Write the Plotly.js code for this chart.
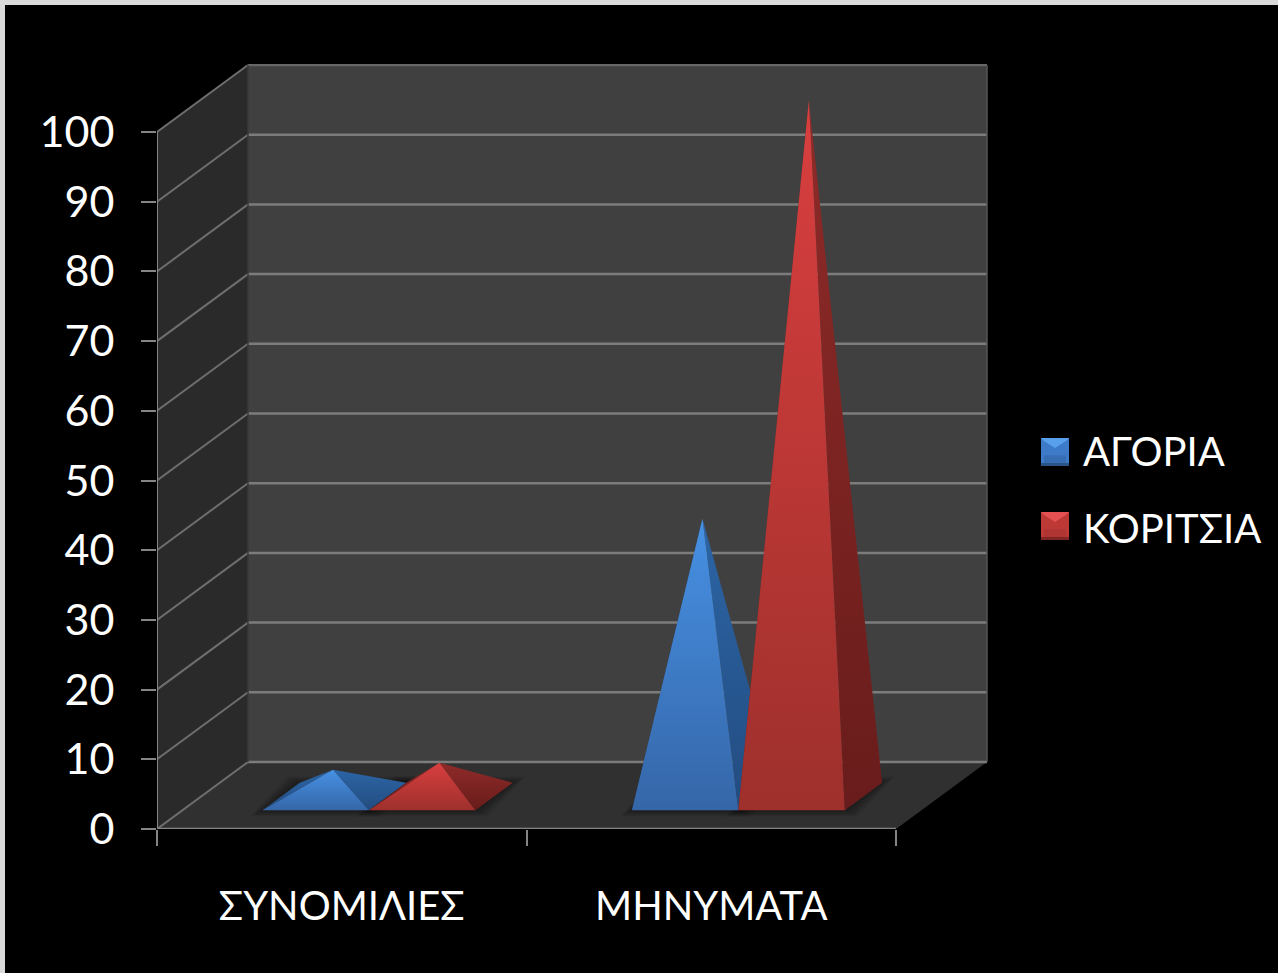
<!DOCTYPE html>
<html>
<head>
<meta charset="utf-8">
<script src="https://cdn.plot.ly/plotly-3.0.1.min.js"></script>
<style>
  html, body { margin: 0; padding: 0; width: 1278px; height: 973px; overflow: hidden; background: #dadada; }
  #chart { position: absolute; left: 5px; top: 5px; width: 1273px; height: 968px; }
</style>
</head>
<body>
<div id="chart"></div>
<script>
// Chart content
const categories = ['ΣΥΝΟΜΙΛΙΕΣ', 'ΜΗΝΥΜΑΤΑ'];
const seriesNames = ['ΑΓΟΡΙΑ', 'ΚΟΡΙΤΣΙΑ'];
const boys = [4, 40];
const girls = [5, 100];
const yTicks = [0, 10, 20, 30, 40, 50, 60, 70, 80, 90, 100];

// Page layout, in window pixels
const WIN = { offX: 5, offY: 5, w: 1273, h: 968 };
const PLOT = { left: 157, right: 989, top: 64, bottom: 829 };
const CAT_PX = 369.5, UNIT_PX = 6.97;

// Oblique box projection: depth 0 is the front plane, depth 1 the back wall
const DX = 91 / CAT_PX, DY = 67 / UNIT_PX;
const project = (c, v, d) => [c + d * DX, v + d * DY];

const xRange = [0, (PLOT.right - PLOT.left) / CAT_PX];
const yRange = [0, (PLOT.bottom - PLOT.top) / UNIT_PX];

const traces = [];
function poly(points, style) {
  const pts = points.concat([points[0]]);
  traces.push(Object.assign({
    type: 'scatter', mode: 'lines', x: pts.map(p => p[0]), y: pts.map(p => p[1]),
    fill: 'toself', line: { width: 0 }, hoverinfo: 'skip', showlegend: false, cliponaxis: false
  }, style));
}
function seg(points, color, width) {
  traces.push({
    type: 'scatter', mode: 'lines', x: points.map(p => p[0]), y: points.map(p => p[1]),
    line: { color: color, width: width }, hoverinfo: 'skip', showlegend: false, cliponaxis: false
  });
}

// Box walls and floor
poly([project(0,0,0), project(0,0,1), project(0,100,1), project(0,100,0)], { fillcolor: '#2a2a2a' });
poly([project(0,0,1), project(2,0,1), project(2,100,1), project(0,100,1)], { fillcolor: '#404040' });
poly([project(0,0,0), project(2,0,0), project(2,0,1), project(0,0,1)], { fillcolor: '#303030' });

// Gridlines run along the left wall and across the back wall
yTicks.forEach(v => {
  const c = v === 100 ? '#666666' : '#7c7c7c';
  seg([project(0,v,0), project(0,v,1)], '#6e6e6e', 2);
  seg([project(0,v,1), project(2,v,1)], c, 2.5);
});
seg([project(2,0,1), project(2,100,1)], '#555555', 1.5);
seg([project(0,0,1), project(0,100,1)], '#3a3a3a', 1.5);

// Front axis lines
seg([project(0,0,0), project(0,100,0)], '#858585', 2);
seg([project(0,0,0), project(2,0,0)], '#858585', 2.5);

// Pyramids
const BAR_START = 0.2165, BAR_W = 0.288;
const DEPTH_FRONT = 0.28, DEPTH_BACK = 0.69, DEPTH_APEX = 0.47;

const palette = [
  { front: ['#3566a8', '#4791e4'], side: ['#234c80', '#2c65a6'] },
  { front: ['#9e302c', '#d93f3f'], side: ['#681c1b', '#8f2b29'] }
];

function footprint(c0, grow) {
  const c1 = c0 + BAR_W, g = grow / CAT_PX, h = grow / UNIT_PX * 0.5;
  const a = project(c0, 0, DEPTH_FRONT), b = project(c1, 0, DEPTH_FRONT);
  const e = project(c1, 0, DEPTH_BACK), f = project(c0, 0, DEPTH_BACK);
  return [[a[0]-g, a[1]-h], [b[0]+g, b[1]-h], [e[0]+g, e[1]+h], [f[0]-g, f[1]+h]];
}

const allSeries = [boys, girls];

// Soft contact shadows on the floor, built up from stacked translucent layers
allSeries.forEach((vals, s) => {
  vals.forEach((_, i) => {
    const c0 = i + BAR_START + s * BAR_W;
    [12, 9, 6, 3].forEach(g => poly(footprint(c0, g), { fillcolor: 'rgba(0,0,0,0.10)' }));
  });
});

allSeries.forEach((vals, s) => {
  vals.forEach((v, i) => {
    const c0 = i + BAR_START + s * BAR_W, c1 = c0 + BAR_W;
    const apex = project(c0 + BAR_W / 2, v, DEPTH_APEX);
    const fl = project(c0, 0, DEPTH_FRONT), fr = project(c1, 0, DEPTH_FRONT);
    const bl = project(c0, 0, DEPTH_BACK), br = project(c1, 0, DEPTH_BACK);
    const grad = pair => ({ type: 'vertical', colorscale: [[0, pair[0]], [1, pair[1]]] });
    poly([fl, bl, apex], { fillgradient: grad(palette[s].side) });
    poly([fr, br, apex], { fillgradient: grad(palette[s].side) });
    poly([fl, fr, apex], { fillgradient: grad(palette[s].front) });
  });
});

// Legend entries; their bevelled swatches are drawn as shapes beside the text
seriesNames.forEach((name, s) => {
  traces.push({
    type: 'scatter', mode: 'markers', x: [null], y: [null], xaxis: 'x2', name: name,
    legendgroup: 'g' + s, marker: { size: 1, opacity: 0, color: palette[s].front[1] }, hoverinfo: 'skip'
  });
});

// Window pixels to paper fractions
const paperX = px => (px - PLOT.left) / (PLOT.right - PLOT.left);
const paperY = py => (PLOT.bottom - py) / (PLOT.bottom - PLOT.top);

function swatch(x, y, size, colors) {
  const path = pts => pts.map((p, i) => (i ? 'L' : 'M') + paperX(p[0]) + ',' + paperY(p[1])).join(' ') + ' Z';
  const x1 = x + size, y1 = y + size, cx = x + size / 2, inset = 3;
  const part = (pts, color) => ({ type: 'path', xref: 'paper', yref: 'paper', path: path(pts), fillcolor: color, line: { width: 0 } });
  return [
    part([[x,y],[x1,y],[x1,y1],[x,y1]], colors.mid),
    part([[x+inset,y+size*0.62],[x1-inset,y+size*0.62],[x1-inset,y1-inset],[x+inset,y1-inset]], colors.low),
    part([[x,y1-inset],[x1,y1-inset],[x1,y1],[x,y1]], colors.edge),
    part([[x,y],[x1,y],[x1-inset,y+inset],[cx,y+size*0.36],[x+inset,y+inset]], colors.top)
  ];
}
const shapes = [].concat(
  swatch(1041, 438, 28, { mid: '#3d7ac7', low: '#376db2', edge: '#2a5488', top: '#58a0ec' }),
  swatch(1041, 512, 28, { mid: '#bd3936', low: '#ae3532', edge: '#7f2523', top: '#e45150' })
);

const FONT = 'Lato, "Open Sans", "Noto Sans", sans-serif';
const layout = {
  width: WIN.w, height: WIN.h,
  margin: { l: PLOT.left - WIN.offX, r: WIN.offX + WIN.w - PLOT.right, t: PLOT.top - WIN.offY, b: WIN.offY + WIN.h - PLOT.bottom, pad: 0, autoexpand: false },
  paper_bgcolor: '#000000', plot_bgcolor: '#000000',
  font: { family: FONT, color: '#ffffff', size: 40 },
  hovermode: false,
  xaxis: {
    range: xRange, tickmode: 'array', tickvals: [0, 1, 2], ticktext: ['', '', ''],
    ticks: 'outside', ticklen: 16, tickwidth: 2, tickcolor: '#858585',
    showgrid: false, zeroline: false, showline: false, fixedrange: true
  },
  xaxis2: {
    overlaying: 'x', anchor: 'y', side: 'bottom', range: xRange,
    tickmode: 'array', tickvals: [0.5, 1.5], ticktext: categories, ticks: '',
    tickfont: { family: FONT, size: 40, color: '#ffffff' }, ticklabelstandoff: 50,
    showgrid: false, zeroline: false, showline: false, fixedrange: true
  },
  yaxis: {
    range: yRange, tickmode: 'array', tickvals: yTicks, ticktext: yTicks.map(String),
    ticks: 'outside', ticklen: 15, tickwidth: 2, tickcolor: '#858585',
    tickfont: { family: FONT, size: 43, color: '#ffffff' }, ticklabelstandoff: 18,
    showgrid: false, zeroline: false, showline: false, fixedrange: true
  },
  showlegend: true,
  legend: {
    x: paperX(1043), xanchor: 'left', y: paperY(489), yanchor: 'middle',
    bgcolor: 'rgba(0,0,0,0)', borderwidth: 0, itemwidth: 30,
    font: { family: FONT, size: 40, color: '#ffffff' }, tracegroupgap: 22,
    itemclick: false, itemdoubleclick: false
  },
  shapes: shapes
};

Plotly.newPlot('chart', traces, layout, { displayModeBar: false, staticPlot: true, responsive: false });
</script>
</body>
</html>
